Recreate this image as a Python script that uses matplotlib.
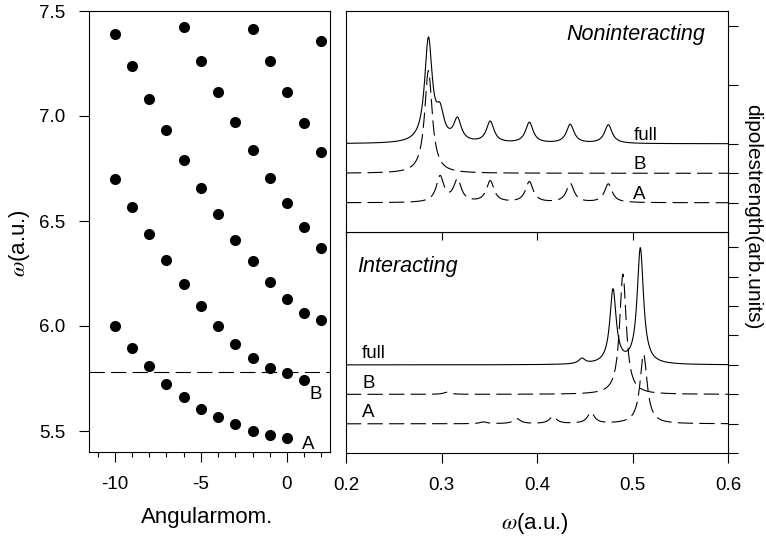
import numpy as np
import matplotlib
matplotlib.use('Agg')
import matplotlib.pyplot as plt
from matplotlib.ticker import FormatStrFormatter

plt.rcParams['font.family'] = ['Liberation Sans', 'DejaVu Sans']
plt.rcParams['mathtext.fontset'] = 'stix'
plt.rcParams['lines.scale_dashes'] = False
plt.rcParams['axes.unicode_minus'] = False

# ---------------- Left panel: level energies vs angular momentum ----------------
branch1_m = [-10, -9, -8, -7, -6, -5, -4, -3, -2, -1, 0]
branch1_w = [6.00, 5.895, 5.81, 5.725, 5.66, 5.605, 5.565, 5.533, 5.50, 5.48, 5.467]
branch2_m = [-10, -9, -8, -7, -6, -5, -4, -3, -2, -1, 0, 1]
branch2_w = [6.70, 6.566, 6.437, 6.316, 6.202, 6.094, 6.00, 5.913, 5.848, 5.802, 5.778, 5.743]
branch3_m = [-10, -9, -8, -7, -6, -5, -4, -3, -2, -1, 0, 1, 2]
branch3_w = [7.392, 7.236, 7.083, 6.935, 6.79, 6.658, 6.531, 6.41, 6.308, 6.21, 6.13, 6.064, 6.028]
branch4_m = [-6, -5, -4, -3, -2, -1, 0, 1, 2]
branch4_w = [7.422, 7.264, 7.114, 6.970, 6.836, 6.707, 6.587, 6.471, 6.373]
branch5_m = [-2, -1, 0, 1, 2]
branch5_w = [7.416, 7.263, 7.115, 6.968, 6.829]
branch6_m = [2]
branch6_w = [7.359]
fermi_level = 5.78

left_xticks = [-10, -5, 0]
left_yticks = [5.5, 6.0, 6.5, 7.0, 7.5]

# ---------------- Right panels: dipole strength spectra (Lorentzian lines) ----------------
offset_A, offset_B, offset_full = 0.0, 1.0, 2.0

nonint_B_pos = [0.2863]
nonint_B_amp = [3.48]
nonint_A_pos = [0.2985, 0.3167, 0.351, 0.392, 0.4348, 0.4747]
nonint_A_amp = [0.87, 0.75, 0.72, 0.70, 0.64, 0.63]
nonint_width = 0.0048

int_full_pos = [0.447, 0.4796, 0.5082]
int_full_amp = [0.18, 2.51, 3.93]
int_B_pos = [0.3056, 0.490]
int_B_amp = [0.07, 4.08]
int_A_pos = [0.344, 0.379, 0.4167, 0.4565, 0.5116]
int_A_amp = [0.06, 0.17, 0.24, 0.37, 2.36]
int_width_full = 0.004
int_width_B = 0.0042
int_width_A = 0.0045

right_xticks = [0.2, 0.3, 0.4, 0.5, 0.6]
upper_rticks = [0, 1, 2, 4, 6]
lower_rticks = [-1, 0, 1, 2, 3, 4, 5, 6]


def spectrum(x, pos, amp, g):
    y = np.zeros_like(x)
    for p, a in zip(pos, amp):
        y += a * g * g / ((x - p) ** 2 + g * g)
    return y


W, H = 766, 544
fig = plt.figure(figsize=(W / 100, H / 100), dpi=100)


def rect(x0, y0, x1, y1):
    return [x0 / W, 1 - y1 / H, (x1 - x0) / W, (y1 - y0) / H]


axL = fig.add_axes(rect(89, 11, 330, 452))
axD = fig.add_axes(rect(346, 232.3, 728, 453.3))
axU = fig.add_axes(rect(346, 11, 728, 232.3))
axU.set_zorder(3)

LW = 0.8
DASH = (11, 4.5)

# Left panel
for m, w in [(branch1_m, branch1_w), (branch2_m, branch2_w), (branch3_m, branch3_w),
             (branch4_m, branch4_w), (branch5_m, branch5_w), (branch6_m, branch6_w)]:
    axL.plot(m, w, 'o', color='black', ms=8, mec='none', clip_on=False)
axL.axhline(fermi_level, color='black', lw=LW, dashes=DASH)
axL.set_xlim(-11.5, 2.5)
axL.set_ylim(5.4, 7.5)
axL.set_xticks(left_xticks)
axL.set_xticks(list(range(-11, 3)), minor=True)
axL.set_yticks(left_yticks)
axL.yaxis.set_major_formatter(FormatStrFormatter('%.1f'))
axL.tick_params(axis='both', which='major', direction='out', length=7, width=LW,
                labelsize=13.5, pad=10)
axL.tick_params(axis='x', which='minor', direction='out', length=3.5, width=LW)
axL.tick_params(axis='y', which='minor', left=False)
axL.text(1.3, 5.653, 'B', fontsize=13.5, ha='left', va='baseline')
axL.text(0.85, 5.415, 'A', fontsize=13.5, ha='left', va='baseline')

# Right panels
x = np.linspace(0.2, 0.6, 4001)
uA = spectrum(x, nonint_A_pos, nonint_A_amp, nonint_width)
uB = spectrum(x, nonint_B_pos, nonint_B_amp, nonint_width)
uF = uA + uB
axU.plot(x, uF + offset_full, color='black', lw=LW)
axU.plot(x, uB + offset_B, color='black', lw=LW, dashes=DASH)
axU.plot(x, uA + offset_A, color='black', lw=LW, dashes=DASH)

dF = spectrum(x, int_full_pos, int_full_amp, int_width_full)
dB = spectrum(x, int_B_pos, int_B_amp, int_width_B)
dA = spectrum(x, int_A_pos, int_A_amp, int_width_A)
axD.plot(x, dF + offset_full, color='black', lw=LW)
axD.plot(x, dB + offset_B, color='black', lw=LW, dashes=DASH)
axD.plot(x, dA + offset_A, color='black', lw=LW, dashes=DASH)

for ax, rt in ((axU, upper_rticks), (axD, lower_rticks)):
    ax.set_xlim(0.2, 0.6)
    ax.set_ylim(-1, 6.5)
    ax.set_xticks(right_xticks)
    ax.set_yticks(rt)
    ax.yaxis.tick_right()
    ax.tick_params(axis='y', which='major', right=True, left=False, labelright=False,
                   direction='out', length=7.5, width=LW)
    ax.tick_params(axis='x', which='major', direction='out', length=7, width=LW,
                   labelsize=13.5, pad=10)
    for s in ax.spines.values():
        s.set_linewidth(LW)
axU.tick_params(axis='x', labelbottom=False, length=6)
axD.xaxis.set_major_formatter(FormatStrFormatter('%.1f'))
for s in axL.spines.values():
    s.set_linewidth(LW)

for ax, xx, lab_off in ((axU, 0.5008, 0.14), (axD, 0.2168, 0.22)):
    ax.text(xx, offset_full + lab_off, 'full', fontsize=13.5, ha='left', va='baseline')
    ax.text(xx, offset_B + lab_off, 'B', fontsize=13.5, ha='left', va='baseline')
    ax.text(xx, offset_A + lab_off, 'A', fontsize=13.5, ha='left', va='baseline')

axU.text(0.94, 0.869, 'Noninteracting', transform=axU.transAxes, fontsize=15.5,
         style='italic', ha='right', va='baseline')
axD.text(0.029, 0.820, 'Interacting', transform=axD.transAxes, fontsize=15.5,
         style='italic', ha='left', va='baseline')

# Axis labels
fig.text(20 / W, 1 - 243 / H, r'$\omega$(a.u.)', fontsize=16, rotation=90,
         ha='center', va='center')
fig.text(207 / W, 1 - 518 / H, 'Angularmom.', fontsize=16, ha='center', va='center')
fig.text(535 / W, 1 - 524 / H, r'$\omega$(a.u.)', fontsize=16, ha='center', va='center')
fig.text(753 / W, 1 - 217 / H, 'dipolestrength(arb.units)', fontsize=15, rotation=270,
         ha='center', va='center')

fig.savefig('out.png', dpi=100)
